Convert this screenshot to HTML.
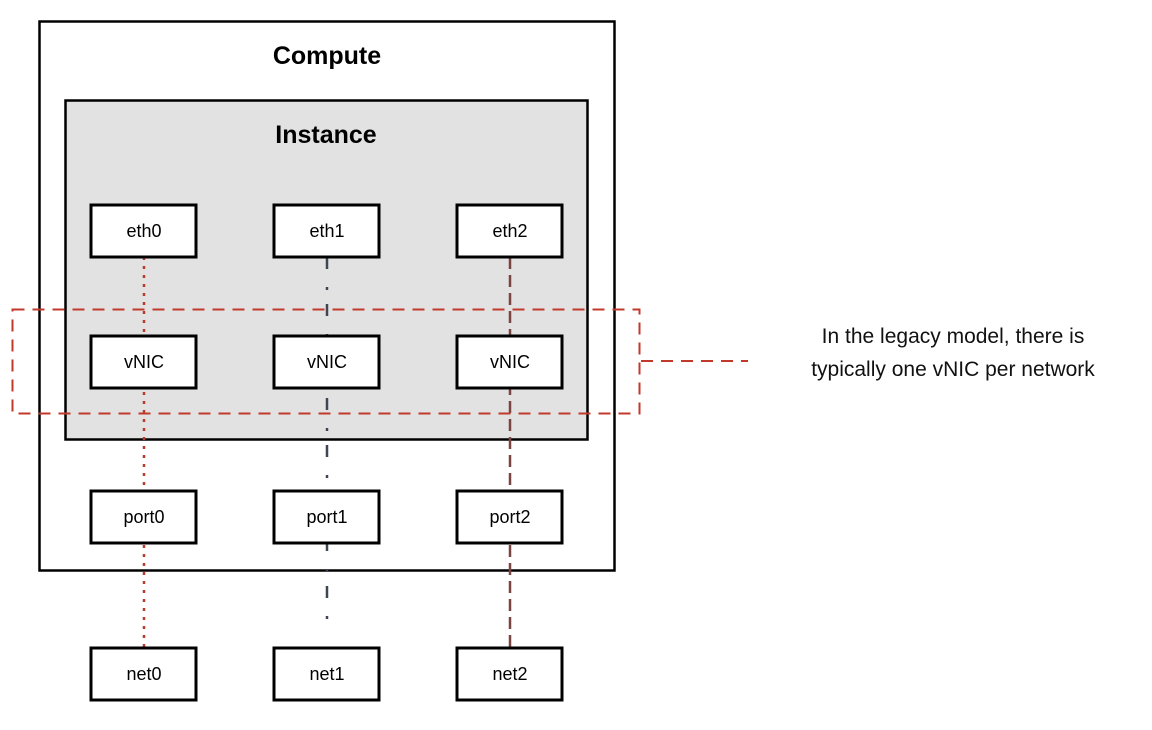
<!DOCTYPE html>
<html><head><style>
body{margin:0;background:#fff;width:1152px;height:725px;overflow:hidden;font-family:"Liberation Sans",sans-serif}
</style></head><body>
<svg width="1152" height="725" xmlns="http://www.w3.org/2000/svg" font-family="Liberation Sans, sans-serif">
<rect x="39.5" y="21.5" width="575" height="549" fill="#fff" stroke="#000" stroke-width="2.5"/>
<text x="327" y="64" font-size="25" font-weight="bold" text-anchor="middle">Compute</text>
<rect x="65.5" y="100.5" width="522" height="339" fill="#e2e2e2" stroke="#000" stroke-width="2.5"/>
<text x="326" y="143" font-size="25" font-weight="bold" text-anchor="middle">Instance</text>
<g stroke-width="2.5" fill="none">
<line x1="144" y1="257" x2="144" y2="647" stroke="#b83a2e" stroke-dasharray="3,6"/>
<line x1="327" y1="257" x2="327" y2="633" stroke="#3f4650" stroke-dasharray="12,18,3,14"/>
<line x1="510" y1="257" x2="510" y2="647" stroke="#7a4540" stroke-dasharray="12,6"/>
</g>
<g fill="#fff" stroke="#000" stroke-width="3">
<rect x="91" y="205" width="105" height="52"/><rect x="274" y="205" width="105" height="52"/><rect x="457" y="205" width="105" height="52"/>
<rect x="91" y="336" width="105" height="52"/><rect x="274" y="336" width="105" height="52"/><rect x="457" y="336" width="105" height="52"/>
<rect x="91" y="491" width="105" height="52"/><rect x="274" y="491" width="105" height="52"/><rect x="457" y="491" width="105" height="52"/>
<rect x="91" y="648" width="105" height="52"/><rect x="274" y="648" width="105" height="52"/><rect x="457" y="648" width="105" height="52"/>
</g>
<g font-size="18" text-anchor="middle">
<text x="144" y="237">eth0</text><text x="327" y="237">eth1</text><text x="510" y="237">eth2</text>
<text x="144" y="368">vNIC</text><text x="327" y="368">vNIC</text><text x="510" y="368">vNIC</text>
<text x="144" y="523">port0</text><text x="327" y="523">port1</text><text x="510" y="523">port2</text>
<text x="144" y="680">net0</text><text x="327" y="680">net1</text><text x="510" y="680">net2</text>
</g>
<rect x="12.5" y="309.5" width="627" height="104" fill="none" stroke="#c0392b" stroke-width="2" stroke-dasharray="12,8"/>
<line x1="641" y1="361" x2="748" y2="361" stroke="#c0392b" stroke-width="2" stroke-dasharray="12,8"/>
<g font-size="21" text-anchor="middle" fill="#111">
<text x="953" y="343">In the legacy model, there is</text>
<text x="953" y="376">typically one vNIC per network</text>
</g>
</svg>
</body></html>
